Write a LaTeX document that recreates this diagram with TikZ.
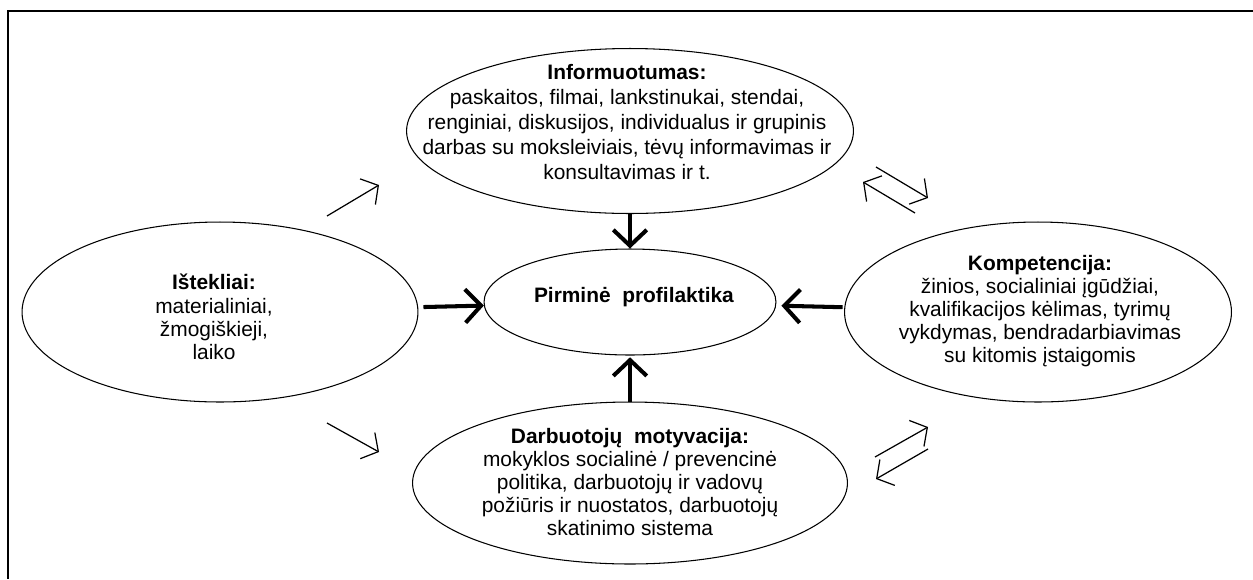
\documentclass[tikz,border=0pt]{standalone}
\usepackage{fontspec}
\setmainfont{Liberation Sans}
\usetikzlibrary{arrows.meta,shapes.geometric}
\tikzset{
    oval/.style={draw, ellipse, line width=0.6pt, inner sep=0pt},
    txt/.style={align=center, font=\fontsize{11.9}{13.2}\selectfont},
    bigarrow/.style={line width=2.3pt, -{Straight Barb[length=9pt,width=19pt]}},
    thinarrow/.style={line width=0.7pt, -{Straight Barb[length=7pt,width=17pt]}}
}

\begin{document}
\begin{tikzpicture}[x=0.02cm, y=-0.02cm]
    \useasboundingbox (0,0) rectangle (1253,579);
    \draw[line width=1.1pt] (1253,11) -- (8,11) -- (8,579);
    \node[oval, minimum width=8.94cm, minimum height=3.3cm] (info) at (630,131) {};
    \node[txt, font=\fontsize{11.9}{14.2}\selectfont] (infotext) at (627,122) {\textbf{Informuotumas:}\\
        paskaitos, filmai, lankstinukai, stendai,\\
        renginiai, diskusijos, individualus ir grupinis\\
        darbas su moksleiviais, tėvų informavimas ir\\
        konsultavimas ir t.};
    \node[oval, minimum width=5.84cm, minimum height=2.12cm] (pirmine) at (630,302) {};
    \node[txt] (pirminetext) at (634,297) {\textbf{Pirminė\ \ profilaktika}};
    \node[oval, minimum width=7.92cm, minimum height=3.6cm] (istekliai) at (220,312) {};
    \node[txt] (isteklaitext) at (214,317) {\textbf{Ištekliai:}\\ materialiniai,\\ žmogiškieji,\\ laiko};
    \node[oval, minimum width=7.74cm, minimum height=3.6cm] (kompetencija) at (1038,312) {};
    \node[txt] (kompetencijatext) at (1040,311) {\textbf{Kompetencija:}\\
        žinios, socialiniai įgūdžiai,\\
        kvalifikacijos kėlimas, tyrimų\\
        vykdymas, bendradarbiavimas\\
        su kitomis įstaigomis};
    \node[oval, minimum width=8.7cm, minimum height=3.24cm] (motyvacija) at (630,483) {};
    \node[txt] (motyvacijatext) at (630,482) {\textbf{Darbuotojų\ \ motyvacija:}\\
        mokyklos socialinė / prevencinė\\
        politika, darbuotojų ir vadovų\\
        požiūris ir nuostatos, darbuotojų\\
        skatinimo sistema};

    \draw[bigarrow] (info.south) -- (pirmine.north);
    \draw[bigarrow, shorten >=1pt] (motyvacija.north) -- (pirmine.south);
    \draw[bigarrow, shorten <=3pt] (istekliai) -- (pirmine);
    \draw[bigarrow, shorten <=1pt, shorten >=3pt] (kompetencija) -- (pirmine);

    \coordinate (a1) at (327,216); \coordinate (a2) at (379,185);
    \coordinate (b1) at (327,423); \coordinate (b2) at (379,452);
    \coordinate (c1) at (876,167); \coordinate (c2) at (928,198);
    \coordinate (d1) at (915,213); \coordinate (d2) at (863,182);
    \coordinate (e1) at (875,457); \coordinate (e2) at (928,427);
    \coordinate (f1) at (928,449); \coordinate (f2) at (876,479);
    \draw[thinarrow] (a1) -- (a2);
    \draw[thinarrow] (b1) -- (b2);
    \draw[thinarrow] (c1) -- (c2);
    \draw[thinarrow] (d1) -- (d2);
    \draw[thinarrow] (e1) -- (e2);
    \draw[thinarrow] (f1) -- (f2);
\end{tikzpicture}
\end{document}
